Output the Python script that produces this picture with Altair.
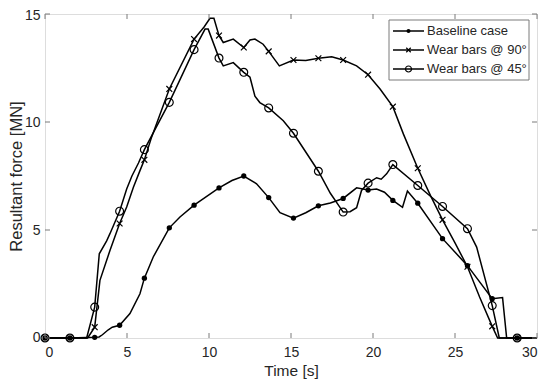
import altair as alt
import pandas as pd

# ---------------- data ----------------
base_t = [0, 1.52, 3.03, 3.3, 3.5, 3.86, 4.1, 4.55, 5.18, 5.79, 6.06, 6.6, 7.58, 8.23, 9.09,
          10.61, 11.4, 12.12, 12.9, 13.64, 14.33, 15.15, 15.9, 16.67, 17.4, 18.18, 19.0, 19.7,
          20.22, 20.7, 21.21, 21.8, 22.1, 22.73, 24.24, 25.76, 27.27, 27.9, 28.15, 28.79, 30]
base_v = [0, 0, 0.03, 0.05, 0.15, 0.38, 0.5, 0.59, 1.13, 2.05, 2.77, 3.75, 5.1, 5.6, 6.15,
          6.95, 7.29, 7.5, 7.14, 6.5, 5.8, 5.55, 5.8, 6.12, 6.25, 6.46, 6.95, 6.85,
          6.9, 6.75, 6.37, 6.05, 6.8, 6.24, 4.6, 3.35, 1.82, 1.87, 0, 0, 0]

w90_t = [0, 1.52, 2.6, 3.03, 3.35, 3.96, 4.55, 4.98, 5.39, 5.79, 6.06, 6.5, 7.58, 9.09, 9.7,
         10.06, 10.3, 10.61, 10.87, 11.48, 12.12, 12.5, 12.8, 13.3, 13.64, 14.29, 15.15, 15.9,
         16.67, 17.48, 18.18, 19.0, 19.7, 20.43, 21.21, 21.85, 22.73, 23.5, 24.24, 25.0, 25.76,
         26.5, 27.27, 27.6, 28.79, 30]
w90_v = [0, 0, 0, 0.5, 2.67, 4.05, 5.3, 6.06, 6.98, 7.75, 8.25, 9.3, 11.53, 13.84, 14.4,
         14.8, 14.8, 14.0, 13.68, 13.84, 13.45, 13.8, 13.84, 13.6, 13.27, 12.6, 12.87, 12.85,
         12.95, 13.02, 12.87, 12.6, 12.19, 11.53, 10.71, 9.45, 7.86, 6.6, 5.47, 4.4, 3.3,
         1.9, 0.54, 0, 0, 0]

w45_t = [0, 1.52, 2.54, 3.03, 3.31, 3.76, 3.96, 4.55, 4.98, 5.3, 5.7, 6.06, 7.58, 9.09, 9.76,
         9.95, 10.61, 10.87, 11.48, 12.12, 12.5, 12.8, 13.1, 13.64, 14.53, 15.15, 16.67, 17.4,
         18.18, 18.6, 19.0, 19.3, 19.7, 20.22, 20.5, 20.83, 21.21, 22.73, 24.24, 25.76, 26.32,
         27.27, 27.7, 28.79, 30]
w45_v = [0, 0, 0, 1.43, 3.9, 4.5, 4.83, 5.87, 6.9, 7.5, 8.1, 8.72, 10.91, 13.35, 14.3,
         14.3, 12.96, 12.6, 12.75, 12.3, 12.07, 11.2, 10.9, 10.65, 10.06, 9.48, 7.72, 6.7,
         5.83, 5.85, 6.03, 6.83, 7.17, 7.42, 7.35, 7.6, 8.03, 7.06, 6.09, 5.06, 4.21,
         1.5, 0, 0, 0]

mark_t = [0, 1.52, 3.03, 4.55, 6.06, 7.58, 9.09, 10.61, 12.12, 13.64, 15.15, 16.67, 18.18,
          19.7, 21.21, 22.73, 24.24, 25.76, 27.27, 28.79]
base_m = [0, 0, 0.03, 0.59, 2.77, 5.1, 6.15, 6.95, 7.5, 6.5, 5.55, 6.12, 6.46, 6.85, 6.37,
          6.24, 4.6, 3.35, 1.82, 0]
w90_m = [0, 0, 0.5, 5.3, 8.25, 11.53, 13.84, 14.0, 13.45, 13.27, 12.87, 12.95, 12.87, 12.19,
         10.71, 7.86, 5.47, 3.3, 0.54, 0]
w45_m = [0, 0, 1.43, 5.87, 8.72, 10.91, 13.35, 12.96, 12.3, 10.65, 9.48, 7.72, 5.83, 7.17,
         8.03, 7.06, 6.09, 5.06, 1.5, 0]

legend_labels = ["Baseline case", "Wear bars @ 90°", "Wear bars @ 45°"]
x_ticks = [0, 5, 10, 15, 20, 25, 30]
y_ticks = [0, 5, 10, 15]

# ---------------- chart ----------------
W, H = 492, 324
FRAME = "#7a7a7a"
TXT = "#262626"
FONT = "Liberation Sans"
X_SHAPE = "M-1,-1L1,1M-1,1L1,-1"

xs = alt.Scale(domain=[0, 30], nice=False, zero=False)
ys = alt.Scale(domain=[0, 15], nice=False, zero=False)
xaxis = alt.Axis(values=x_ticks, ticks=False, domain=False, grid=False, labelPadding=7,
                 labelFontSize=14, labelColor=TXT, labelFont=FONT, title="Time [s]",
                 titleFontSize=15.5, titleFontWeight="normal", titleColor=TXT, titleFont=FONT,
                 titlePadding=4)
yaxis = alt.Axis(values=y_ticks, ticks=False, domain=False, grid=False, labelPadding=5,
                 labelFontSize=14, labelColor=TXT, labelFont=FONT,
                 labelFlush=True, labelFlushOffset=6,
                 title="Resultant force [MN]", titleFontSize=16.5, titleFontWeight="normal",
                 titleColor=TXT, titleFont=FONT, titlePadding=0)
X = lambda f: alt.X(f, scale=xs, axis=xaxis)
Y = lambda f: alt.Y(f, scale=ys, axis=yaxis)


def line_layer(t, v):
    df = pd.DataFrame({"t": t, "v": v, "i": list(range(len(t)))})
    return alt.Chart(df).mark_line(color="black", strokeWidth=1.5).encode(
        x=X("t:Q"), y=Y("v:Q"), order="i:Q")


def marker_layer(v, **kw):
    df = pd.DataFrame({"t": mark_t, "v": v})
    return alt.Chart(df).mark_point(color="black", opacity=1, **kw).encode(
        x=X("t:Q"), y=Y("v:Q"))


dot_kw = dict(shape="circle", filled=True, size=28)
x_kw = dict(shape=X_SHAPE, filled=False, size=34, strokeWidth=1.2)
o_kw = dict(shape="circle", filled=False, size=62, strokeWidth=1.2)

layers = [
    line_layer(base_t, base_v), line_layer(w90_t, w90_v), line_layer(w45_t, w45_v),
    marker_layer(base_m, **dot_kw), marker_layer(w90_m, **x_kw), marker_layer(w45_m, **o_kw),
]

# inward ticks on all four sides
xt = pd.DataFrame({"t": x_ticks})
yt = pd.DataFrame({"v": y_ticks})
layers += [
    alt.Chart(xt).mark_rule(color=FRAME, strokeWidth=1).encode(x=X("t:Q"), y=alt.value(H), y2=alt.value(H - 5)),
    alt.Chart(xt).mark_rule(color=FRAME, strokeWidth=1).encode(x=X("t:Q"), y=alt.value(0), y2=alt.value(5)),
    alt.Chart(yt).mark_rule(color=FRAME, strokeWidth=1).encode(y=Y("v:Q"), x=alt.value(0), x2=alt.value(5)),
    alt.Chart(yt).mark_rule(color=FRAME, strokeWidth=1).encode(y=Y("v:Q"), x=alt.value(W), x2=alt.value(W - 5)),
]

# legend box
one = pd.DataFrame({"a": [0]})
LX0, LX1, LY0, LY1 = 344, 484, 6, 66
layers.append(alt.Chart(one).mark_rect(fill="white", stroke=FRAME, strokeWidth=1).encode(
    x=alt.value(LX0), x2=alt.value(LX1), y=alt.value(LY0), y2=alt.value(LY1)))
row_y = [17, 36, 55]
row_kw = [dict(shape="circle", filled=True, size=16),
          dict(shape=X_SHAPE, filled=False, size=20, strokeWidth=1.2),
          dict(shape="circle", filled=False, size=36, strokeWidth=1.2)]
for lab, ry, kw in zip(legend_labels, row_y, row_kw):
    d = pd.DataFrame({"label": [lab]})
    layers.append(alt.Chart(d).mark_rule(color="black", strokeWidth=1.5).encode(
        x=alt.value(348), x2=alt.value(379), y=alt.value(ry)))
    layers.append(alt.Chart(d).mark_point(color="black", opacity=1, **kw).encode(
        x=alt.value(363.5), y=alt.value(ry)))
    layers.append(alt.Chart(d).mark_text(align="left", baseline="middle", fontSize=13,
                                         font=FONT, color=TXT).encode(
        x=alt.value(382), y=alt.value(ry), text="label:N"))

chart = alt.layer(*layers).properties(
    width=W, height=H,
    autosize=alt.AutoSizeParams(type="none"),
    padding={"left": 37, "top": 6, "right": 5, "bottom": 45},
).configure_view(stroke=FRAME, strokeWidth=1).configure(background="white")

chart.save("out.html", embed_options={"renderer": "svg", "actions": False})
